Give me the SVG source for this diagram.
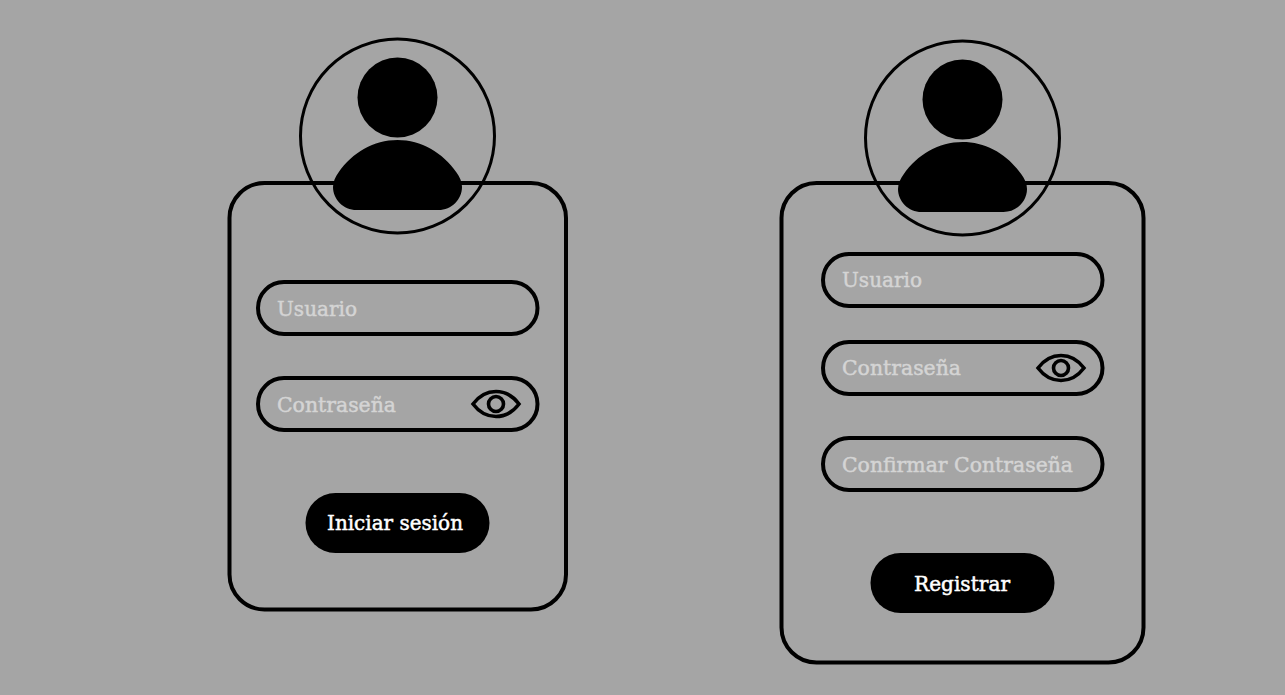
<svg xmlns="http://www.w3.org/2000/svg" width="1285" height="695" viewBox="0 0 1285 695">
<defs>
<style>
.card{fill:none;stroke:#000;stroke-width:4}
.field{fill:none;stroke:#000;stroke-width:4}
.ring{fill:none;stroke:#000;stroke-width:3}
.btn{fill:#000}
text{font-family:"DejaVu Serif","Liberation Serif",serif;font-size:21px;stroke-width:0.5px}
.ph{fill:#d4d4d4;stroke:#d4d4d4}
.lbl{fill:#fff;stroke:#fff}
.eye{fill:none;stroke:#000;stroke-width:3.6}
</style>
<g id="avatar"><circle cx="0" cy="0" r="40" fill="#000"/><path d="M-64.500 89.500C-64.500 84 -62 79 -59 75C-45 55 -24 42.500 0 42.500C24 42.500 45 55 59 75C62 79 64.500 84 64.500 89.500C64.500 102 54 112.500 41 112.500L-41 112.500C-54 112.500 -64.500 102 -64.500 89.500Z" fill="#000"/></g>
<g id="eyeicon"><path class="eye" d="M-23 0C-17 -8 -9 -12.500 0 -12.500C9 -12.500 17 -8 23 0C17 8 9 12.500 0 12.500C-9 12.500 -17 8 -23 0Z"/><circle class="eye" r="7.500"/></g>
</defs>
<rect width="1285" height="695" fill="#a5a5a5"/>
<g id="login">
<rect id="login-card" class="card" x="229.500" y="183" width="336.500" height="426.500" rx="35"/>
<g id="login-avatar"><circle class="ring" cx="397.500" cy="136" r="97"/><use href="#avatar" x="397.500" y="97.500"/></g>
<g id="login-user"><rect class="field" x="258" y="282" width="279.500" height="52" rx="26"/><text class="ph" x="277" y="315.500" textLength="80" lengthAdjust="spacingAndGlyphs">Usuario</text></g>
<g id="login-pass"><rect class="field" x="258" y="378" width="279.500" height="52" rx="26"/><text class="ph" x="277" y="411.500" textLength="119" lengthAdjust="spacingAndGlyphs">Contraseña</text><use href="#eyeicon" x="496" y="404"/></g>
<g id="login-btn"><rect class="btn" x="305.500" y="493" width="184" height="60" rx="30"/><text class="lbl" x="327" y="529.500" textLength="136" lengthAdjust="spacingAndGlyphs">Iniciar sesión</text></g>
</g>
<g id="register">
<rect id="register-card" class="card" x="781.500" y="183" width="362" height="479.500" rx="35"/>
<g id="register-avatar"><circle class="ring" cx="962.500" cy="138" r="97"/><use href="#avatar" x="962.500" y="99.500"/></g>
<g id="register-user"><rect class="field" x="823" y="254" width="279.500" height="52" rx="26"/><text class="ph" x="842" y="287" textLength="80" lengthAdjust="spacingAndGlyphs">Usuario</text></g>
<g id="register-pass"><rect class="field" x="823" y="342" width="279.500" height="52" rx="26"/><text class="ph" x="842" y="375" textLength="119" lengthAdjust="spacingAndGlyphs">Contraseña</text><use href="#eyeicon" x="1061" y="368"/></g>
<g id="register-confirm"><rect class="field" x="823" y="438" width="279.500" height="52" rx="26"/><text class="ph" x="842" y="471.500" textLength="231" lengthAdjust="spacingAndGlyphs">Confirmar Contraseña</text></g>
<g id="register-btn"><rect class="btn" x="870.500" y="553" width="184" height="60" rx="30"/><text class="lbl" x="914" y="590.500" textLength="96" lengthAdjust="spacingAndGlyphs">Registrar</text></g>
</g>
<g id="connectors"/>
</svg>
